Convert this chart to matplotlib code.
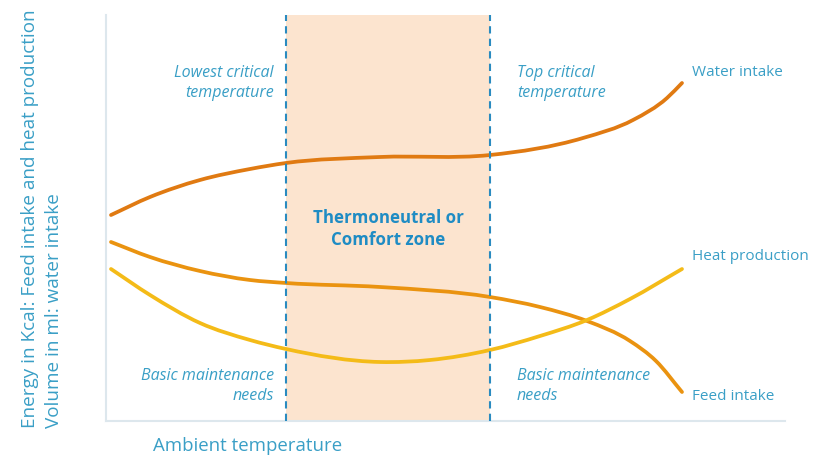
import matplotlib
matplotlib.use("Agg")
import matplotlib.pyplot as plt
from matplotlib.path import Path
from matplotlib.patches import PathPatch

plt.rcParams['font.family'] = ['Open Sans', 'DejaVu Sans']

# curve points (arbitrary units: temperature vs energy/volume)
water_x = [5, 44, 94, 144, 180, 274, 384, 477, 527, 561, 576]
water_y = [206, 224, 241, 252, 258, 264, 266, 283, 301, 323, 338]

feed_x = [5, 44, 94, 144, 180, 274, 384, 434, 481, 524, 550, 576]
feed_y = [179, 164, 150, 141, 138, 134, 124, 114, 100, 80, 60, 29]

heat_x = [5, 44, 94, 144, 180, 274, 324, 384, 434, 481, 524, 576]
heat_y = [152, 126, 98, 81, 72, 59, 61, 71, 85, 101, 122, 152]

lower_critical = 180
upper_critical = 384

series_names = ['Water intake', 'Heat production', 'Feed intake']

blue = '#2a8bc0'
text_blue = '#3a9fc6'


def smooth_path(xs, ys):
    # cubic hermite through the points (tangents from neighbouring slopes)
    n = len(xs)
    h = [xs[i + 1] - xs[i] for i in range(n - 1)]
    d = [(ys[i + 1] - ys[i]) / h[i] for i in range(n - 1)]
    m = [d[0]]
    for i in range(1, n - 1):
        m.append((d[i - 1] * h[i] + d[i] * h[i - 1]) / (h[i - 1] + h[i]))
    m.append(d[-1])
    verts = [(xs[0], ys[0])]
    codes = [Path.MOVETO]
    for i in range(n - 1):
        verts += [(xs[i] + h[i] / 3, ys[i] + m[i] * h[i] / 3),
                  (xs[i + 1] - h[i] / 3, ys[i + 1] - m[i + 1] * h[i] / 3),
                  (xs[i + 1], ys[i + 1])]
        codes += [Path.CURVE4] * 3
    return Path(verts, codes)


fig = plt.figure(figsize=(8.14, 4.62), dpi=100)
ax = fig.add_axes([106 / 814, 1 - 421 / 462, 679 / 814, 406 / 462])
ax.set_xlim(0, 679)
ax.set_ylim(0, 406)

# comfort zone
ax.axvspan(lower_critical, upper_critical, color='#fce4cf', lw=0, zorder=0)
for xc in (lower_critical, upper_critical):
    ax.axvline(xc, color=blue, lw=1.5, dashes=(3.5, 2.5), zorder=3)

for xs, ys, col in [(water_x, water_y, '#e07a12'),
                    (feed_x, feed_y, '#ea9310'),
                    (heat_x, heat_y, '#f4bb18')]:
    ax.add_patch(PathPatch(smooth_path(xs, ys), fill=False, edgecolor=col,
                           lw=2.7, capstyle='round', joinstyle='round', zorder=2))

# annotations
it = dict(color=text_blue, fontsize=11.5, style='italic', linespacing=1.35, va='center')
ax.text(168, 338, 'Lowest critical\ntemperature', ha='right', multialignment='right', **it)
ax.text(411, 338, 'Top critical\ntemperature', ha='left', **it)
ax.text(168, 35, 'Basic maintenance\nneeds', ha='right', multialignment='right', **it)
ax.text(411, 35, 'Basic maintenance\nneeds', ha='left', **it)

ax.text(282, 192, 'Thermoneutral or\nComfort zone', ha='center', va='center',
        color='#1f8cc4', fontsize=12.2, fontweight='bold', linespacing=1.3)

lab = dict(color=text_blue, fontsize=11, ha='left', va='center')
ax.text(586, 349, series_names[0], **lab)
ax.text(586, 164, series_names[1], **lab)
ax.text(586, 24, series_names[2], **lab)

for side in ('top', 'right'):
    ax.spines[side].set_visible(False)
for side in ('left', 'bottom'):
    ax.spines[side].set_color('#dde7ed')
    ax.spines[side].set_linewidth(1.5)
ax.set_xticks([])
ax.set_yticks([])

fig.text(153 / 814, 1 - 446 / 462, 'Ambient temperature', color=text_blue,
         fontsize=13.4, ha='left', va='center')
fig.text(30 / 814, 1 - 428 / 462, 'Energy in Kcal: Feed intake and heat production',
         color=text_blue, fontsize=13.6, rotation=90, ha='center', va='bottom')
fig.text(54 / 814, 1 - 428 / 462, 'Volume in ml: water intake',
         color=text_blue, fontsize=13.6, rotation=90, ha='center', va='bottom')

fig.savefig('out.png', dpi=100)
